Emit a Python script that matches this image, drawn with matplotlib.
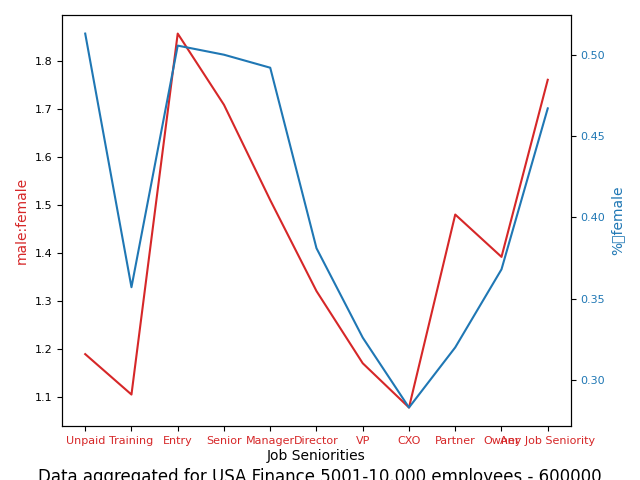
import matplotlib.pyplot as plt

seniorities = ["Unpaid", "Training", "Entry", "Senior", "Manager", "Director",
               "VP", "CXO", "Partner", "Owner", "Any Job Seniority"]
male_female = [1.19, 1.106, 1.856, 1.708, 1.51, 1.321, 1.171, 1.079, 1.48, 1.392, 1.76]
pct_female = [0.513, 0.357, 0.5056, 0.500, 0.492, 0.381, 0.326, 0.283, 0.320, 0.368, 0.467]

fig, ax1 = plt.subplots(figsize=(6.4, 4.8), dpi=100)
fig.subplots_adjust(left=0.097, right=0.892, top=0.969, bottom=0.112)

ax1.plot(seniorities, male_female, color="tab:red")
ax1.set_ylabel("male:female", color="tab:red")
ax1.set_xlabel("Job Seniorities", labelpad=2)
ax1.tick_params(axis="x", labelcolor="tab:red", labelsize=8)
ax1.tick_params(axis="y", labelsize=8)

ax2 = ax1.twinx()
ax2.plot(seniorities, pct_female, color="tab:blue")
ax2.set_ylabel("%\x1ffemale", color="tab:blue")
ax2.tick_params(axis="y", labelcolor="tab:blue", labelsize=8)

fig.text(0.5, -0.012, "Data aggregated for USA Finance 5001-10.000 employees - 600000",
         ha="center", va="bottom", fontsize=12)

fig.savefig("out.png")
